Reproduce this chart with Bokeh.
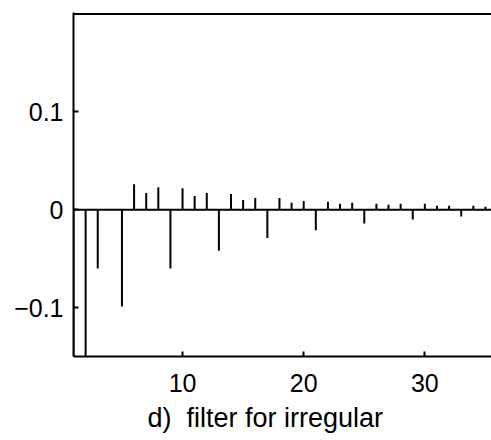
from bokeh.plotting import figure
from bokeh.models import Span, Title, FixedTicker, Range1d
from bokeh.embed import file_html
from bokeh.resources import INLINE

lags = list(range(1, 36))
weights = [-0.25, -0.2, -0.060, 0.0, -0.099, 0.026, 0.017, 0.023, -0.060, 0.022,
           0.014, 0.017, -0.042, 0.016, 0.010, 0.012, -0.029, 0.012, 0.007, 0.009,
           -0.021, 0.008, 0.006, 0.007, -0.014, 0.006, 0.005, 0.006, -0.010, 0.006,
           0.004, 0.004, -0.007, 0.004, 0.003]
x_ticks = [10, 20, 30]
y_ticks = [-0.1, 0, 0.1]
y_tick_labels = {-0.1: "\u22120.1", 0: "0", 0.1: "0.1"}
title_text = "d)\u00a0\u00a0filter for irregular"

FONT = "Liberation Sans"

p = figure(width=491, height=440, output_backend="svg", toolbar_location=None,
           x_range=Range1d(1, 35.5), y_range=Range1d(-0.15, 0.2015),
           min_border_left=73, min_border_right=0, min_border_top=12, min_border_bottom=84)
p.outline_line_color = None
p.grid.visible = False
p.background_fill_color = "white"

zero = [0.0] * len(lags)
p.segment(x0=lags, y0=zero, x1=lags, y1=weights, line_color="black", line_width=2)

p.add_layout(Span(location=0, dimension="width", line_color="black", line_width=2))
p.add_layout(Span(location=0.2, dimension="width", line_color="black", line_width=2))

for ax in (p.xaxis[0], p.yaxis[0]):
    ax.axis_line_width = 2
    ax.axis_line_color = "black"
    ax.major_tick_line_width = 2
    ax.major_tick_in = 5
    ax.major_tick_out = 0
    ax.minor_tick_line_color = None
    ax.major_label_text_font = FONT
    ax.major_label_text_font_size = "25px"
    ax.major_label_text_color = "black"

p.xaxis.ticker = FixedTicker(ticks=x_ticks)
p.xaxis.major_label_standoff = 17
p.yaxis.ticker = FixedTicker(ticks=y_ticks)
p.yaxis.major_label_overrides = y_tick_labels
p.yaxis.major_label_standoff = 10

t = Title(text=title_text, align="left", offset=74, standoff=13, text_font=FONT,
          text_font_size="27px", text_font_style="normal", text_color="black")
p.add_layout(t, "below")

open("out.html", "w").write(file_html(p, INLINE))
